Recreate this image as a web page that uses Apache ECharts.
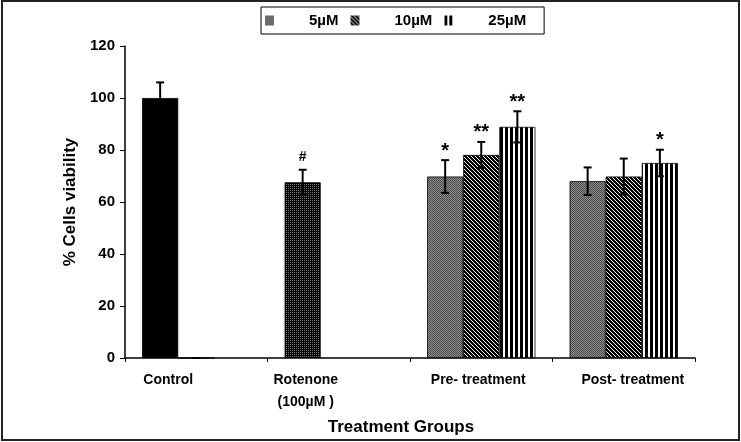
<!DOCTYPE html>
<html>
<head>
<meta charset="utf-8">
<script src="https://cdn.jsdelivr.net/npm/echarts@6/dist/echarts.min.js"></script>
<style>
  html, body { margin: 0; padding: 0; background: #fff; }
  #chart { width: 741px; height: 442px; }
</style>
</head>
<body>
<div id="chart"></div>
<script>
// values
const categories = ['Control', 'Rotenone\n(100µM )', 'Pre- treatment', 'Post- treatment'];
const seriesNames = ['5µM', '10µM', '25µM'];

const means5 = [100, 67.6, 69.8, 68.0];
const sd5 = [6, 4.8, 6.3, 5.3];
const marks5 = ['', '#', '*', ''];

const means10 = [0, null, 78.1, 69.8];
const sd10 = [0, null, 5.0, 6.9];
const marks10 = ['', '', '**', ''];

const means25 = [null, null, 88.9, 75.0];
const sd25 = [null, null, 6.0, 5.1];
const marks25 = ['', '', '**', '*'];

const FONT = '"Liberation Sans", Arial, sans-serif';

function makePattern(w, h, draw) {
    const c = document.createElement('canvas');
    c.width = w;
    c.height = h;
    draw(c.getContext('2d'));
    return { image: c, repeat: 'repeat' };
}

// grey fine checker (5µM)
const greyPat = makePattern(2, 2, function (ctx) {
    ctx.fillStyle = '#8e8e8e';
    ctx.fillRect(0, 0, 2, 2);
    ctx.fillStyle = '#4a4a4a';
    ctx.fillRect(0, 0, 1, 1);
    ctx.fillRect(1, 1, 1, 1);
});
// diagonal stripes (10µM)
const diagPat = makePattern(4, 4, function (ctx) {
    ctx.fillStyle = '#fff';
    ctx.fillRect(0, 0, 4, 4);
    ctx.fillStyle = '#000';
    for (let y = 0; y < 4; y++) {
        for (let x = 0; x < 4; x++) {
            if (((x - y) % 4 + 4) % 4 !== 3) ctx.fillRect(x, y, 1, 1);
        }
    }
});
// vertical stripes (25µM)
const vertPat = makePattern(5, 1, function (ctx) {
    ctx.fillStyle = '#fff';
    ctx.fillRect(0, 0, 5, 1);
    ctx.fillStyle = '#000';
    ctx.fillRect(0, 0, 3, 1);
});
// dark dotted (rotenone)
const dotPat = makePattern(2, 2, function (ctx) {
    ctx.fillStyle = '#000';
    ctx.fillRect(0, 0, 2, 2);
    ctx.fillStyle = '#777';
    ctx.fillRect(0, 0, 1, 1);
});

const barColors = [greyPat, diagPat, vertPat];
const itemColors5 = ['#000', dotPat, null, null];

// horizontal nudges of the category labels, as in the original figure
const labelRich = {
    c0: { padding: [0, 56, 0, 0] },
    c1: { padding: [0, 66, 0, 0] },
    c2: { padding: [0, 6, 0, 0] },
    c3: { padding: [0, 0, 0, 18] }
};
Object.keys(labelRich).forEach(function (k) {
    Object.assign(labelRich[k], {
        fontFamily: FONT, fontSize: 14, fontWeight: 'bold', color: '#000', lineHeight: 22
    });
});

function barData(means, colors) {
    return means.map(function (v, i) {
        if (v == null) return '-';
        if (colors && colors[i]) return { value: v, itemStyle: { color: colors[i] } };
        return v;
    });
}

function errSeries(slot, means, sds, marks) {
    const data = [];
    means.forEach(function (v, i) {
        if (v != null) data.push([i, v, sds[i]]);
    });
    return {
        name: 'err' + slot,
        type: 'custom',
        z: 10,
        encode: { x: 0, y: 1 },
        data: data,
        renderItem: function (params, api) {
            const i = api.value(0), m = api.value(1), sd = api.value(2);
            const band = api.size([1, 0])[0];
            const bw = band * 0.76 / 3;
            const x = api.coord([i, m])[0] + (slot - 1) * bw;
            const top = api.coord([i, m + sd])[1];
            const bot = api.coord([i, m - sd])[1];
            const cap = 4;
            const style = { stroke: '#000', lineWidth: 2 };
            const children = [
                { type: 'line', shape: { x1: x, y1: top, x2: x, y2: bot }, style: style },
                { type: 'line', shape: { x1: x - cap, y1: top, x2: x + cap, y2: top }, style: style },
                { type: 'line', shape: { x1: x - cap, y1: bot, x2: x + cap, y2: bot }, style: style }
            ];
            const mk = marks[i];
            if (mk) {
                const star = mk.indexOf('*') >= 0;
                children.push({
                    type: 'text',
                    style: {
                        text: mk,
                        x: x,
                        y: star ? top - 9 : top - 13,
                        align: 'center',
                        verticalAlign: 'middle',
                        font: 'bold ' + (star ? 20 : 14) + 'px ' + FONT,
                        fill: '#000'
                    }
                });
            }
            return { type: 'group', children: children };
        }
    };
}

const chart = echarts.init(document.getElementById('chart'));

const option = {
    backgroundColor: '#fff',
    animation: false,
    textStyle: { fontFamily: FONT },
    graphic: [{
        type: 'rect',
        shape: { x: 2, y: 1, width: 737, height: 439 },
        style: { fill: 'none', stroke: '#222', lineWidth: 2 },
        silent: true
    }],
    legend: {
        data: seriesNames,
        icon: 'rect',
        left: 261,
        top: 7,
        itemWidth: 9,
        itemHeight: 10,
        itemGap: 12,
        padding: [6, 18, 6, 4],
        borderColor: '#000',
        borderWidth: 1,
        selectedMode: false,
        itemStyle: { borderWidth: 0 },
        textStyle: {
            fontFamily: FONT,
            fontSize: 15,
            fontWeight: 'bold',
            color: '#000',
            lineHeight: 13,
            padding: [0, 0, 0, 30]
        }
    },
    grid: { left: 125, right: 46, top: 46, bottom: 84 },
    xAxis: {
        type: 'category',
        data: categories,
        name: 'Treatment Groups',
        nameLocation: 'middle',
        nameGap: 61,
        nameTextStyle: {
            fontFamily: FONT, fontSize: 17, fontWeight: 'bold', color: '#000',
            padding: [0, 18, 0, 0]
        },
        axisLine: { lineStyle: { color: '#000', width: 1.5 } },
        axisTick: { show: true, length: 4, interval: 0, lineStyle: { color: '#000' } },
        axisLabel: {
            interval: 0,
            margin: 11,
            fontFamily: FONT,
            fontSize: 14,
            fontWeight: 'bold',
            color: '#000',
            lineHeight: 22,
            formatter: function (value, index) {
                return value.split('\n').map(function (line) {
                    return '{c' + index + '|' + line + '}';
                }).join('\n');
            },
            rich: labelRich
        }
    },
    yAxis: {
        type: 'value',
        min: 0,
        max: 120,
        interval: 20,
        name: '% Cells viability',
        nameLocation: 'middle',
        nameGap: 42,
        nameTextStyle: { fontFamily: FONT, fontSize: 17, fontWeight: 'bold', color: '#000' },
        splitLine: { show: false },
        axisLine: { show: true, lineStyle: { color: '#000', width: 1.5 } },
        axisTick: { show: true, length: 5, lineStyle: { color: '#000' } },
        axisLabel: { margin: 10, fontFamily: FONT, fontSize: 15, fontWeight: 'bold', color: '#000' }
    },
    series: [
        {
            name: seriesNames[0], type: 'bar', barGap: '0%', barCategoryGap: '24%',
            itemStyle: { color: barColors[0], borderColor: '#000', borderWidth: 0.8 },
            data: barData(means5, itemColors5)
        },
        {
            name: seriesNames[1], type: 'bar', barGap: '0%', barCategoryGap: '24%',
            itemStyle: { color: barColors[1], borderColor: '#000', borderWidth: 0.8 },
            data: barData(means10)
        },
        {
            name: seriesNames[2], type: 'bar', barGap: '0%', barCategoryGap: '24%',
            itemStyle: { color: barColors[2], borderColor: '#000', borderWidth: 0.8 },
            data: barData(means25)
        },
        errSeries(0, means5, sd5, marks5),
        errSeries(1, means10, sd10, marks10),
        errSeries(2, means25, sd25, marks25)
    ]
};

chart.setOption(option);
</script>
</body>
</html>
